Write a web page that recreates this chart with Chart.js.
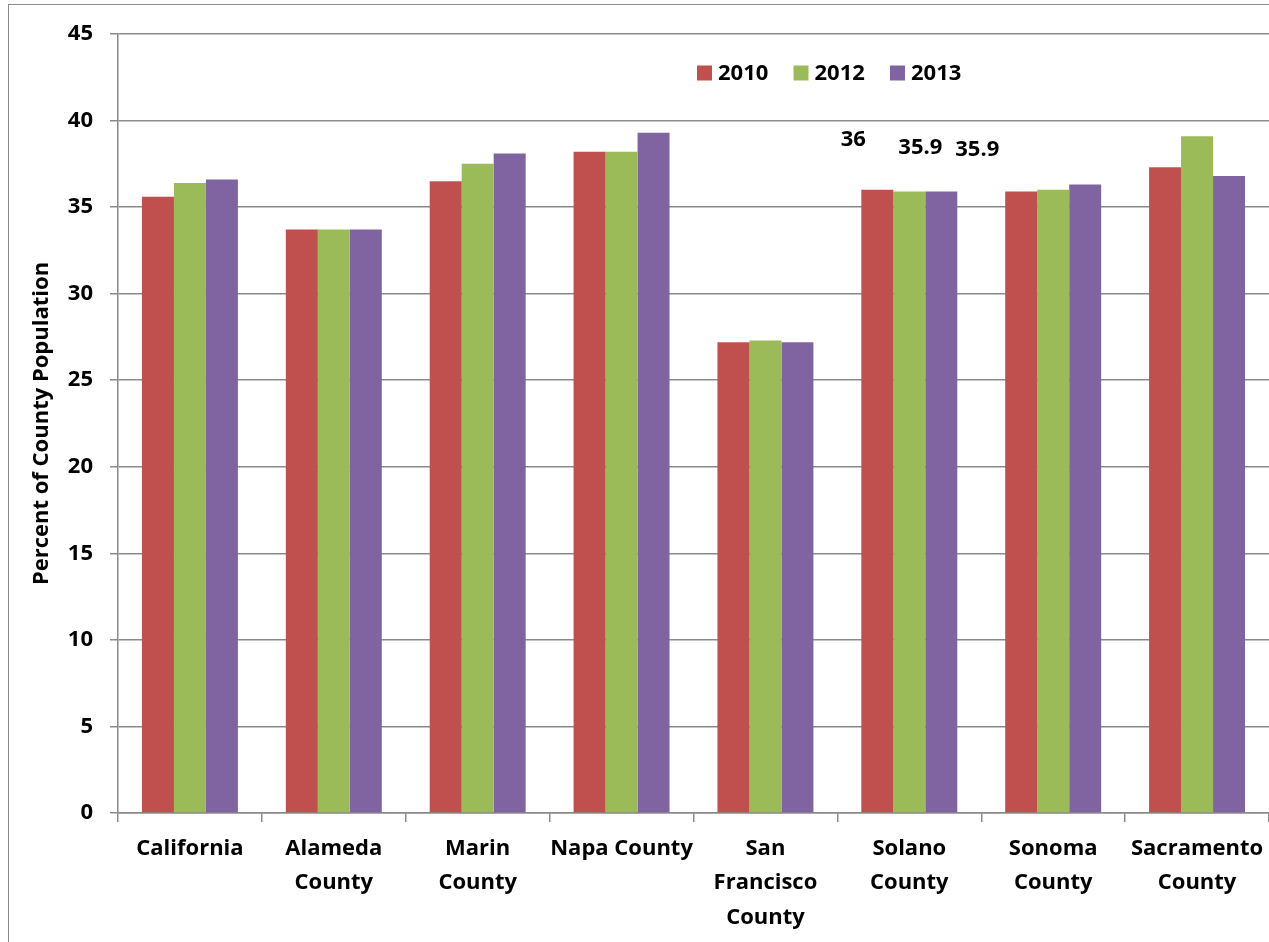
<!DOCTYPE html>
<html>
<head>
<meta charset="utf-8">
<script src="https://cdn.jsdelivr.net/npm/chart.js@4"></script>
<style>
  html, body { margin: 0; padding: 0; background: #fff; overflow: hidden; }
  #frame { position: absolute; left: 8px; top: 4px; width: 1400px; height: 1100px;
           border-left: 1.5px solid #8a8a8a; border-top: 1.5px solid #8a8a8a; }
  #wrap { position: absolute; left: 0; top: 0; width: 1269px; height: 942px; }
</style>
</head>
<body>
<div id="frame"></div>
<div id="wrap"><canvas id="chart" width="1269" height="942"></canvas></div>
<script>
// counties along the x axis
const counties = [
  'California',
  ['Alameda', 'County'],
  ['Marin', 'County'],
  'Napa County',
  ['San', 'Francisco', 'County'],
  ['Solano', 'County'],
  ['Sonoma', 'County'],
  ['Sacramento', 'County']
];
const years = ['2010', '2012', '2013'];
const pct2010 = [35.6, 33.7, 36.5, 38.2, 27.2, 36.0, 35.9, 37.3];
const pct2012 = [36.4, 33.7, 37.5, 38.2, 27.3, 35.9, 36.0, 39.1];
const pct2013 = [36.6, 33.7, 38.1, 39.3, 27.2, 35.9, 36.3, 36.8];
const yTicks = [0, 5, 10, 15, 20, 25, 30, 35, 40, 45];
const colors = ['#C0504D', '#9BBB59', '#8064A2'];

const FONT = '"Open Sans"';
const labelFont = { family: FONT, size: 22, weight: 'bold' };

// the stray data labels sitting above Solano
const solanoIdx = 5;
const solanoLabelShift = [[-24, -50], [11, -44], [36, -42]];

const extras = {
  id: 'extras',
  afterDatasetsDraw(chart) {
    const ctx = chart.ctx;
    ctx.save();
    ctx.font = 'bold 22px ' + FONT;
    ctx.fillStyle = '#000';
    ctx.textAlign = 'center';
    ctx.textBaseline = 'middle';
    chart.data.datasets.forEach((ds, i) => {
      const bar = chart.getDatasetMeta(i).data[solanoIdx];
      const v = ds.data[solanoIdx];
      ctx.fillText(String(v), bar.x + solanoLabelShift[i][0], bar.y + solanoLabelShift[i][1]);
    });

    // legend
    const area = chart.chartArea;
    let x = area.left + 579;
    const y = area.top + 39;
    ctx.textAlign = 'left';
    chart.data.datasets.forEach((ds) => {
      ctx.fillStyle = ds.backgroundColor;
      ctx.fillRect(x, y - 7.5, 15, 15);
      ctx.fillStyle = '#000';
      ctx.fillText(ds.label, x + 21, y + 1);
      x += 96.5;
    });
    ctx.restore();
  }
};

const ctx = document.getElementById('chart').getContext('2d');
const myChart = new Chart(ctx, {
  type: 'bar',
  data: {
    labels: counties,
    datasets: [
      { label: years[0], data: pct2010, backgroundColor: colors[0] },
      { label: years[1], data: pct2012, backgroundColor: colors[1] },
      { label: years[2], data: pct2013, backgroundColor: colors[2] }
    ]
  },
  options: {
    responsive: false,
    animation: false,
    layout: { padding: { top: 34, right: 0, bottom: 0, left: 0 } },
    datasets: { bar: { categoryPercentage: 0.667, barPercentage: 1.0 } },
    plugins: { legend: { display: false }, tooltip: { enabled: false } },
    scales: {
      x: {
        grid: { drawOnChartArea: false, drawTicks: true, tickLength: 9, color: '#8a8a8a', lineWidth: 1.5, offset: true },
        border: { color: '#8a8a8a', width: 1.5 },
        ticks: { color: '#000', font: { family: FONT, size: 22, weight: 'bold', lineHeight: 1.55 }, padding: 10, maxRotation: 0, autoSkip: false },
        afterFit(scale) {
          scale.height = 129;
          scale.paddingLeft = 0;
          scale.paddingRight = 0;
        }
      },
      y: {
        min: 0,
        max: 45,
        afterBuildTicks(scale) { scale.ticks = yTicks.map(v => ({ value: v })); },
        grid: { color: '#8a8a8a', lineWidth: 1.5, tickLength: 8 },
        border: { color: '#8a8a8a', width: 1.5 },
        ticks: { color: '#000', font: labelFont, padding: 17 },
        title: { display: true, text: 'Percent of County Population', color: '#000',
                 font: { family: FONT, size: 22, weight: 'bold' }, padding: { top: 29, bottom: 0 } },
        afterFit(scale) { scale.width = 118; }
      }
    }
  },
  plugins: [extras]
});
</script>
</body>
</html>
